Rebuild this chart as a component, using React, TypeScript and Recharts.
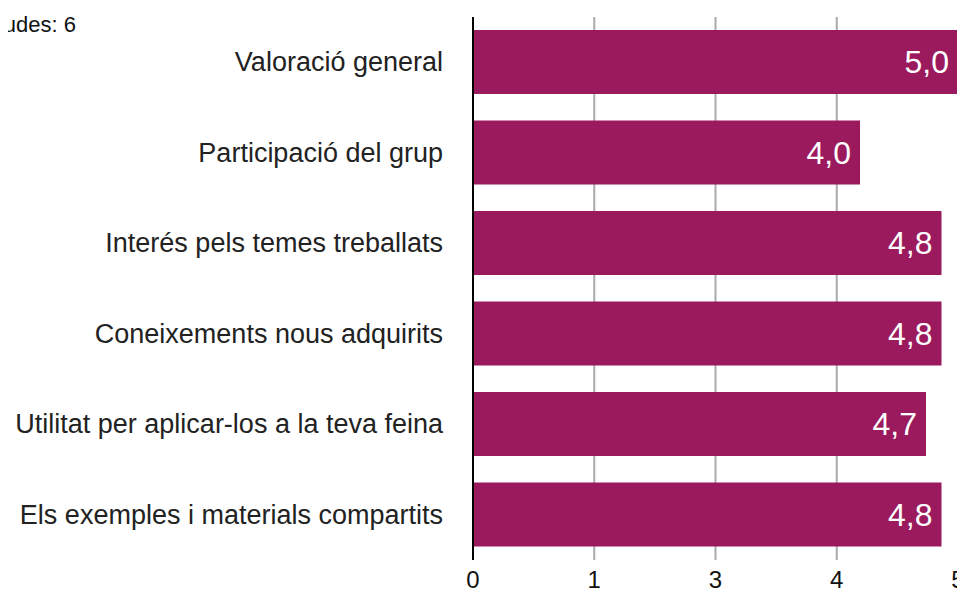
import React from 'react';
import { BarChart, Bar, XAxis, YAxis, CartesianGrid, LabelList } from 'recharts';

const categories = [
  'Valoració general',
  'Participació del grup',
  'Interés pels temes treballats',
  'Coneixements nous adquirits',
  'Utilitat per aplicar-los a la teva feina',
  'Els exemples i materials compartits',
];
const scores = [5.0, 3.99, 4.83, 4.83, 4.67, 4.83];
const xTicks = [0, 1.25, 2.5, 3.75, 5];
const noteText = 'Respostes rebudes: 6';

const FONT = '"Liberation Sans", Arial, Helvetica, sans-serif';
const BAR_COLOR = '#9b1a5d';

const data = categories.map((name, i) => ({ name, value: scores[i] }));

const CategoryTick = (props: any) => {
  const { x, y, payload } = props;
  return (
    <text x={x - 22} y={y} dy={9} textAnchor="end" fontSize={27} fill="#222" fontFamily={FONT}>
      {payload.value}
    </text>
  );
};

// ticks are at 0, 1.25, 2.5, 3.75, 5 and printed rounded
const ValueTick = (props: any) => {
  const { x, y, payload } = props;
  return (
    <text x={x} y={y + 20} textAnchor="middle" fontSize={24} fill="#111" fontFamily={FONT}>
      {Math.round(payload.value)}
    </text>
  );
};

const App: React.FC = () => {
  return (
    <div style={{ position: 'relative', width: 965, height: 598, margin: -8, fontFamily: FONT }}>
      <div
        style={{
          position: 'absolute',
          top: 12,
          right: 965 - 76,
          whiteSpace: 'nowrap',
          fontSize: 22,
          color: '#111',
        }}
      >
        {noteText}
      </div>
      <BarChart
        width={965}
        height={598}
        data={data}
        layout="vertical"
        margin={{ top: 17, right: 7, bottom: 0, left: 0 }}
      >
        <CartesianGrid horizontal={false} stroke="#aaaaaa" strokeWidth={2} />
        <XAxis
          type="number"
          domain={[0, 5]}
          ticks={xTicks}
          axisLine={false}
          tickLine={false}
          height={38}
          tick={<ValueTick />}
        />
        <YAxis
          type="category"
          dataKey="name"
          width={473}
          axisLine={{ stroke: '#000', strokeWidth: 2 }}
          tickLine={false}
          tick={<CategoryTick />}
        />
        <Bar dataKey="value" fill={BAR_COLOR} barSize={64} isAnimationActive={false}>
          <LabelList
            dataKey="value"
            position="insideRight"
            offset={9}
            fill="#ffffff"
            fontSize={32}
            fontFamily={FONT}
            formatter={(v: any) => Number(v).toFixed(1).replace('.', ',')}
          />
        </Bar>
      </BarChart>
    </div>
  );
};

export default App;
